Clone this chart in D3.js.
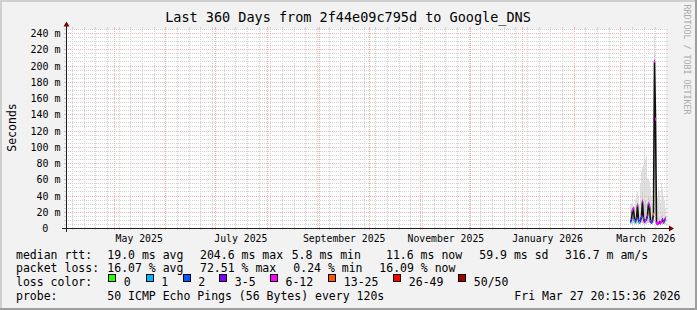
<!DOCTYPE html>
<html><head><meta charset="utf-8">
<script src="https://cdn.jsdelivr.net/npm/d3@7"></script>
<style>
body{margin:0;background:#f2f2f2}
svg{display:block}
text{font-family:"DejaVu Sans Mono",monospace;fill:#000}
</style>
</head><body>
<svg id="chart" width="697" height="310"></svg>
<script>
// ---------------- data ----------------
const title = "Last 360 Days from 2f44e09c795d to Google_DNS";
const endTime = "2026-03-27T20:15:36";
const spanDays = 360;

const yTickValues = [0, 20, 40, 60, 80, 100, 120, 140, 160, 180, 200, 220, 240];
const yTickLabels = ["0", "20 m", "40 m", "60 m", "80 m", "100 m", "120 m", "140 m", "160 m", "180 m", "200 m", "220 m", "240 m"];
const yMinorStep = 5;
const yMax = 245;

const xLabelMonths = ["2025-05-01", "2025-07-01", "2025-09-01", "2025-11-01", "2026-01-01", "2026-03-01"];
const xLabelTexts = ["May 2025", "July 2025", "September 2025", "November 2025", "January 2026", "March 2026"];

const dates = [
  "2026-03-06T14:24", "2026-03-07T04:48", "2026-03-07T19:12", "2026-03-08T09:36", "2026-03-09T00:00",
  "2026-03-09T14:24", "2026-03-10T04:48", "2026-03-10T19:12", "2026-03-11T09:36", "2026-03-12T00:00",
  "2026-03-12T14:24", "2026-03-13T04:48", "2026-03-13T19:12", "2026-03-14T09:36", "2026-03-15T00:00",
  "2026-03-15T14:24", "2026-03-16T04:48", "2026-03-16T19:12", "2026-03-17T09:36", "2026-03-18T00:00",
  "2026-03-18T14:24", "2026-03-19T04:48", "2026-03-19T19:12", "2026-03-20T09:36", "2026-03-21T00:00",
  "2026-03-21T14:24", "2026-03-22T04:48", "2026-03-22T19:12", "2026-03-23T09:36", "2026-03-24T00:00",
  "2026-03-24T14:24", "2026-03-25T04:48", "2026-03-25T19:12", "2026-03-26T09:36", "2026-03-27T00:00",
  "2026-03-27T14:24"
];
// median rtt (ms)
const medianRtt = [8, 10, 22, 24, 9, 8, 12, 28, 10, 7, 9, 14, 33, 12, 8, 9, 11, 15, 30, 27, 8, 7, 9, 17, 205, 134, 6, 5, 6, 7, 6, 8, 10, 7, 9, 11.6];
// loss bin index (into lossLabels)
const lossBin = [2, 3, 4, 4, 1, 2, 3, 4, 2, 1, 3, 3, 4, 2, 3, 4, 3, 3, 4, 4, 2, 3, 3, 5, 4, 4, 4, 4, 4, 3, 4, 4, 3, 4, 2, 4];
// smoke: min / max / inner upper band (ms)
const smokeMin = [5, 5, 6, 6, 5, 5, 5, 6, 5, 5, 5, 6, 6, 5, 5, 5, 5, 6, 6, 6, 5, 5, 5, 6, 60, 20, 4, 4, 4, 4, 4, 5, 5, 5, 5, 5];
const smokeMax = [30, 31, 28, 26, 20, 35, 42, 44, 40, 30, 55, 69, 75, 77, 98, 85, 90, 62, 60, 58, 50, 40, 30, 35, 236, 160, 45, 40, 50, 45, 32, 55, 48, 40, 35, 25];
const smokeInner = [14, 18, 24, 25, 13, 15, 20, 32, 18, 12, 20, 30, 45, 28, 30, 35, 30, 28, 38, 34, 18, 14, 15, 22, 215, 145, 10, 9, 12, 12, 10, 15, 16, 12, 14, 15];

const lossLabels = ["0", "1", "2", "3-5", "6-12", "13-25", "26-49", "50/50"];
const lossColors = ["#26ff00", "#00b8ff", "#0059ff", "#7e00ff", "#ff00ff", "#ff5500", "#ff0000", "#a10000"];

const legendRow1 = ["median rtt:", "19.0 ms avg", "204.6 ms max", "5.8 ms min", "11.6 ms now", "59.9 ms sd", "316.7 m am/s"];
const legendRow2 = ["packet loss:", "16.07 % avg", "72.51 % max", "0.24 % min", "16.09 % now"];
const legendRow3Title = "loss color:";
const legendRow4 = ["probe:", "50 ICMP Echo Pings (56 Bytes) every 120s"];
const timestampText = "Fri Mar 27 20:15:36 2026";
const yAxisTitle = "Seconds";
const watermark = "RRDTOOL / TOBI OETIKER";

// ---------------- layout ----------------
const W = 697, H = 310;
const X0 = 66, X1 = 666, Y0 = 228, Y1 = 29;
const svg = d3.select("#chart");
const parse = d3.timeParse("%Y-%m-%dT%H:%M:%S");
const parseM = d3.timeParse("%Y-%m-%dT%H:%M");
const parseD = d3.timeParse("%Y-%m-%d");
const tEnd = parse(endTime);
const tStart = new Date(+tEnd - spanDays * 864e5);

const xs = d3.scaleTime().domain([tStart, tEnd]).range([65.6, 665.6]);
const ys = d3.scaleLinear().domain([0, yMax]).range([Y0, Y1]);

svg.append("rect").attr("width", W).attr("height", H).attr("fill", "#f2f2f2");
svg.append("rect").attr("x", 0).attr("y", 0).attr("width", W).attr("height", 2).attr("fill", "#cfcfcf");
svg.append("rect").attr("x", 0).attr("y", 0).attr("width", 2).attr("height", H).attr("fill", "#cfcfcf");
svg.append("rect").attr("x", 0).attr("y", H - 2).attr("width", W).attr("height", 2).attr("fill", "#9e9e9e");
svg.append("rect").attr("x", W - 2).attr("y", 0).attr("width", 2).attr("height", H).attr("fill", "#9e9e9e");

svg.append("rect").attr("x", X0).attr("y", Y1).attr("width", X1 - X0).attr("height", Y0 - Y1).attr("fill", "#ffffff");

// ---------------- data layers ----------------
const rows = dates.map((d, i) => ({
  t: parseM(d), med: medianRtt[i], bin: lossBin[i],
  lo: smokeMin[i], hi: smokeMax[i], inner: smokeInner[i]
}));
const px = d => Math.floor(xs(d));
const colW = i => {
  if (i < rows.length - 1) return Math.max(1, px(rows[i + 1].t) - px(rows[i].t));
  return Math.max(1, px(rows[i].t) - px(rows[i - 1].t));
};
const gData = svg.append("g").attr("shape-rendering", "crispEdges");
gData.selectAll("rect.smoke").data(rows).join("rect")
  .attr("x", d => px(d.t)).attr("width", (d, i) => colW(i))
  .attr("y", d => Math.round(ys(d.hi))).attr("height", d => Math.round(ys(d.lo)) - Math.round(ys(d.hi)))
  .attr("fill", "#e0e0e0");
gData.append("g").selectAll("rect").data(rows).join("rect")
  .attr("x", d => px(d.t)).attr("width", (d, i) => colW(i))
  .attr("y", d => Math.round(ys(d.inner))).attr("height", d => Math.max(0, Math.round(ys(d.lo)) - Math.round(ys(d.inner))))
  .attr("fill", "#cbcbcb");

// ---------------- grid ----------------
const gGrid = svg.append("g").attr("shape-rendering", "crispEdges");
const minorCol = "#d2d2d2";
const majorCol = "#f2b0b0";
function hLine(y, col) {
  gGrid.append("line").attr("x1", X0).attr("x2", X1).attr("y1", y).attr("y2", y)
    .attr("stroke", col).attr("stroke-dasharray", "1,1");
  gGrid.append("line").attr("x1", X0 - 2).attr("x2", X0).attr("y1", y).attr("y2", y).attr("stroke", col);
  gGrid.append("line").attr("x1", X1).attr("x2", X1 + 2).attr("y1", y).attr("y2", y).attr("stroke", col);
}
function vLine(x, col) {
  gGrid.append("line").attr("x1", x).attr("x2", x).attr("y1", Y1).attr("y2", Y0)
    .attr("stroke", col).attr("stroke-dasharray", "1,1");
  gGrid.append("line").attr("x1", x).attr("x2", x).attr("y1", Y0).attr("y2", Y0 + 2).attr("stroke", col);
  gGrid.append("line").attr("x1", x).attr("x2", x).attr("y1", Y1 - 2).attr("y2", Y1).attr("stroke", col);
}
const yMinor = d3.range(0, yMax + 0.01, yMinorStep).filter(v => v > 0 && !yTickValues.includes(v));
yMinor.forEach(v => hLine(Math.round(ys(v)) + 0.5, minorCol));
const months = d3.timeMonth.range(tStart, tEnd);
const monthPx = months.map(m => px(m));
d3.timeSunday.range(tStart, tEnd).forEach(d => {
  const xp = px(d);
  if (monthPx.includes(xp)) return;
  vLine(xp + 0.5, minorCol);
});
yTickValues.filter(v => v > 0).forEach(v => hLine(Math.round(ys(v)) + 0.5, majorCol));
months.forEach(m => vLine(px(m) + 0.5, majorCol));

// ---------------- median line + loss markers ----------------
const line = d3.line().x(d => px(d.t) + 0.5).y(d => ys(d.med));
svg.append("path").datum(rows).attr("d", line).attr("fill", "none")
  .attr("stroke", "#111111").attr("stroke-width", 1.6).attr("stroke-linejoin", "miter");
svg.append("g").selectAll("rect").data(rows).join("rect")
  .attr("x", d => px(d.t)).attr("width", (d, i) => colW(i))
  .attr("y", d => ys(d.med) - 1.5).attr("height", 3)
  .attr("fill", d => lossColors[d.bin]);

// ---------------- axes ----------------
const gAxis = svg.append("g").attr("shape-rendering", "crispEdges");
gAxis.append("line").attr("x1", X0 - 4).attr("x2", X1 + 3).attr("y1", Y0 + 0.5).attr("y2", Y0 + 0.5).attr("stroke", "#212121");
gAxis.append("line").attr("x1", X0 + 0.5).attr("x2", X0 + 0.5).attr("y1", Y0 + 4).attr("y2", Y1 - 3).attr("stroke", "#212121");
svg.append("path").attr("d", `M${X0 + 0.5},${Y1 - 7.5} L${X0 + 3.5},${Y1 - 2.5} L${X0 - 2.5},${Y1 - 2.5} Z`).attr("fill", "#800000");
svg.append("path").attr("d", `M${X1 + 8},${Y0 + 0.5} L${X1 + 3},${Y0 - 2.5} L${X1 + 3},${Y0 + 3.5} Z`).attr("fill", "#800000");

yTickValues.forEach((v, i) => {
  const lab = yTickLabels[i];
  svg.append("text").attr("x", lab.includes(" ") ? 60.5 : 48.3).attr("y", Math.round(ys(v)) + 4)
    .attr("text-anchor", "end").attr("font-size", "10px").text(lab);
});
xLabelMonths.forEach((m, i) => {
  const t = new Date(+parseD(m) + 15 * 864e5);
  svg.append("text").attr("x", xs(t)).attr("y", 241.5)
    .attr("text-anchor", "middle").attr("font-size", "9.8px").text(xLabelTexts[i]);
});

svg.append("text").attr("x", 348).attr("y", 22).attr("text-anchor", "middle")
  .attr("font-size", "13.5px").text(title);
svg.append("text").attr("transform", "translate(15.5,127.5) rotate(-90)")
  .attr("text-anchor", "middle").attr("font-size", "11.5px").text(yAxisTitle);
svg.append("text").attr("transform", "translate(684,4.5) rotate(90)")
  .attr("font-size", "8.3px").style("fill", "#ababab").text(watermark);

// ---------------- legend ----------------
const lf = "11.5px";
const rowY = [258.5, 272.2, 285.9, 299.6];
const row1X = [16, 107.3, 200, 291.7, 386, 479.3, 565];
const row2X = [16, 107.3, 200, 293.3, 379.3];
legendRow1.forEach((s, i) => svg.append("text").attr("x", row1X[i]).attr("y", rowY[0]).attr("font-size", lf).text(s));
legendRow2.forEach((s, i) => svg.append("text").attr("x", row2X[i]).attr("y", rowY[1]).attr("font-size", lf).text(s));
svg.append("text").attr("x", 16).attr("y", rowY[2]).attr("font-size", lf).text(legendRow3Title);
const boxX = [108.3, 145.7, 182.7, 219.3, 270, 328.3, 393.3, 458.3];
lossLabels.forEach((s, i) => {
  svg.append("rect").attr("x", Math.round(boxX[i]) + 0.5).attr("y", 274.5).attr("width", 7).attr("height", 7)
    .attr("fill", lossColors[i]).attr("stroke", "#000").attr("stroke-width", 1).attr("shape-rendering", "crispEdges");
  svg.append("text").attr("x", boxX[i] + 15.5).attr("y", rowY[2]).attr("font-size", lf).text(s);
});
svg.append("text").attr("x", 16).attr("y", rowY[3]).attr("font-size", lf).text(legendRow4[0]);
svg.append("text").attr("x", 107.3).attr("y", rowY[3]).attr("font-size", lf).text(legendRow4[1]);
svg.append("text").attr("x", 680.5).attr("y", rowY[3]).attr("text-anchor", "end").attr("font-size", lf).text(timestampText);
</script>
</body></html>
